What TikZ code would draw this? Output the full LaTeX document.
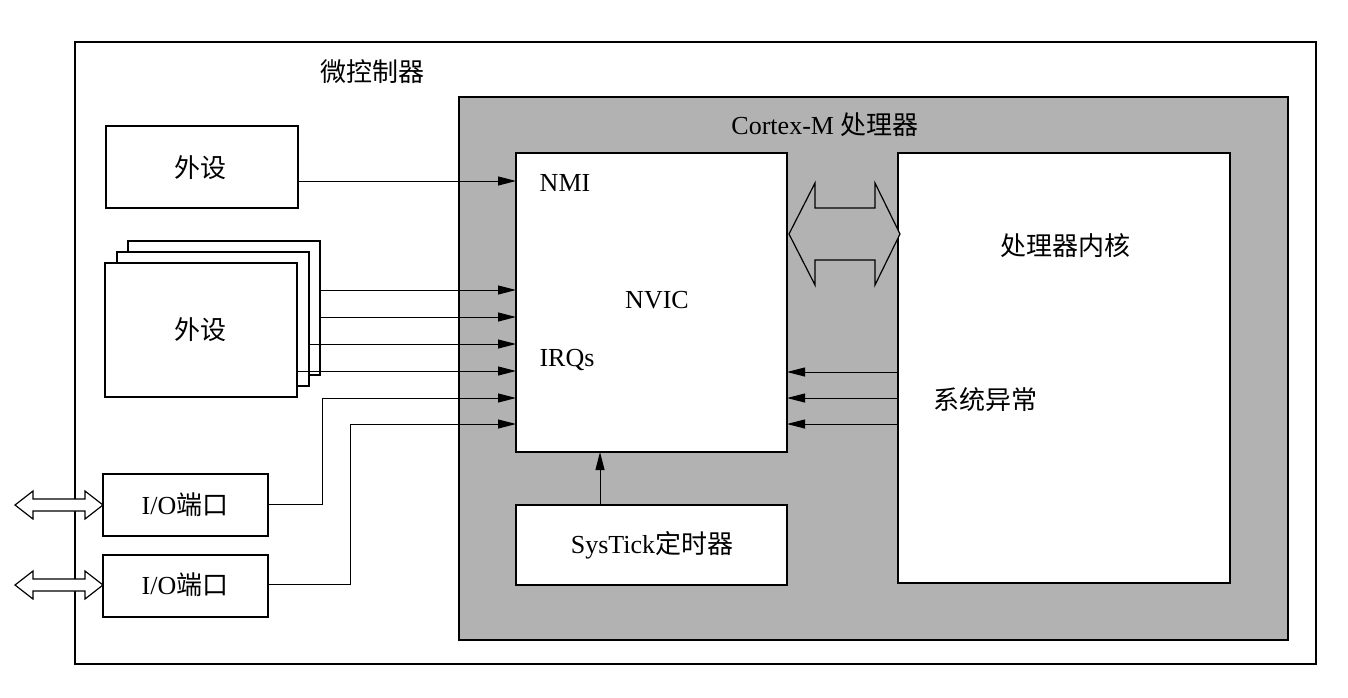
\documentclass[tikz,border=0pt]{standalone}
\usepackage{fontspec}
\setmainfont{Liberation Serif}
\newfontfamily\cjk{Noto Sans CJK SC}
\usetikzlibrary{arrows.meta}
\begin{document}
\begin{tikzpicture}[x=1pt,y=-1pt,
  box/.style={draw,line width=1.2pt,fill=white},
  lbl/.style={font=\fontsize{26}{30}\selectfont},
  sig/.style={line width=1pt,-{Triangle[length=18pt,width=9pt]}},
  dbl/.style={draw,line width=1.2pt,fill=white}]
\useasboundingbox (0,0) rectangle (1348,697);
\draw[line width=1.2pt] (75,42) rectangle (1316,664);
\node[lbl,anchor=center] (mc) at (372,72) {\cjk 微控制器};
\draw[line width=1.2pt,fill=black!30] (459,97) rectangle (1288,640);
\node[lbl] (cm) at (825,125) {Cortex-M {\cjk 处理器}};
\draw[box] (516,153) rectangle (787,452);
\node[lbl] (nvic) at (657,300) {NVIC};
\node[lbl] (nmi) at (565,183) {NMI};
\node[lbl] (irq) at (567,360) {IRQs};
\draw[box] (898,153) rectangle (1230,583);
\node[lbl] (core) at (1065,246) {\cjk 处理器内核};
\node[lbl] (exc) at (985,400) {\cjk 系统异常};
\draw[box] (516,505) rectangle (787,585);
\node[lbl] (st) at (652,545) {SysTick{\cjk 定时器}};
\draw[box] (106,126) rectangle (298,208);
\node[lbl] (p1) at (200,168) {\cjk 外设};
\draw[box] (128,241) rectangle (320,375);
\draw[box] (117,252) rectangle (309,386);
\draw[box] (105,263) rectangle (297,397);
\node[lbl] (p2) at (200,330) {\cjk 外设};
\draw[box] (103,474) rectangle (268,536);
\node[lbl] (io1) at (185,505) {I/O{\cjk 端口}};
\draw[box] (103,555) rectangle (268,617);
\node[lbl] (io2) at (185,585) {I/O{\cjk 端口}};
% arrows
\draw[sig] (298,181) -- (516,181);
\draw[sig] (320,290) -- (516,290);
\draw[sig] (320,317) -- (516,317);
\draw[sig] (309,344) -- (516,344);
\draw[sig] (297,371) -- (516,371);
\draw[sig] (268,504) -- (322,504) -- (322,398) -- (516,398);
\draw[sig] (268,584) -- (350,584) -- (350,424) -- (516,424);
\foreach \y in {372,398,424} \draw[sig] (898,\y) -- (787,\y);
\draw[sig] (600,505) -- (600,452);
% big double arrow
\draw[dbl,fill=black!30] (789,234) -- (815,183) -- (815,208) -- (875,208) -- (875,183) -- (900,234) -- (875,285) -- (875,260) -- (815,260) -- (815,285) -- cycle;
% IO double arrows
\foreach \y in {505,585}
 \draw[dbl] (15,\y) -- (33,\y-14) -- (33,\y-6) -- (85,\y-6) -- (85,\y-14) -- (103,\y) -- (85,\y+14) -- (85,\y+6) -- (33,\y+6) -- (33,\y+14) -- cycle;
\end{tikzpicture}
\end{document}
